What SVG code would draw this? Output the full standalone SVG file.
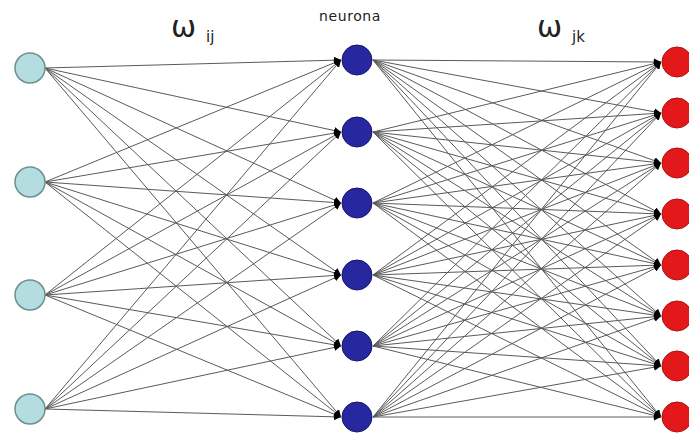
<svg xmlns="http://www.w3.org/2000/svg" width="689" height="435" viewBox="0 0 689 435">
<style>
.e{stroke:#5a5a5a;stroke-width:1;fill:none;marker-end:url(#ah)}
.in{fill:#b3dde1;stroke:#6e8f91;stroke-width:1.5}
.hid{fill:#2727a0;stroke:#15156a;stroke-width:1}
.out{fill:#e3181b;stroke:#b01010;stroke-width:1}
.lbl{font-family:"DejaVu Sans",sans-serif;fill:#222}
</style>
<defs>
<marker id="ah" markerUnits="userSpaceOnUse" markerWidth="8" markerHeight="7" refX="7" refY="3.5" orient="auto">
<path d="M0,0 L7,3.5 L0,7 z" fill="#000"/>
</marker>
</defs>
<rect width="689" height="435" fill="#fff"/>
<g id="connectors">
<line class="e" x1="45" y1="68" x2="341" y2="60"/>
<line class="e" x1="45" y1="68" x2="341" y2="132"/>
<line class="e" x1="45" y1="68" x2="341" y2="203"/>
<line class="e" x1="45" y1="68" x2="341" y2="275"/>
<line class="e" x1="45" y1="68" x2="341" y2="346"/>
<line class="e" x1="45" y1="68" x2="341" y2="417"/>
<line class="e" x1="45" y1="182" x2="341" y2="60"/>
<line class="e" x1="45" y1="182" x2="341" y2="132"/>
<line class="e" x1="45" y1="182" x2="341" y2="203"/>
<line class="e" x1="45" y1="182" x2="341" y2="275"/>
<line class="e" x1="45" y1="182" x2="341" y2="346"/>
<line class="e" x1="45" y1="182" x2="341" y2="417"/>
<line class="e" x1="45" y1="295" x2="341" y2="60"/>
<line class="e" x1="45" y1="295" x2="341" y2="132"/>
<line class="e" x1="45" y1="295" x2="341" y2="203"/>
<line class="e" x1="45" y1="295" x2="341" y2="275"/>
<line class="e" x1="45" y1="295" x2="341" y2="346"/>
<line class="e" x1="45" y1="295" x2="341" y2="417"/>
<line class="e" x1="45" y1="409" x2="341" y2="60"/>
<line class="e" x1="45" y1="409" x2="341" y2="132"/>
<line class="e" x1="45" y1="409" x2="341" y2="203"/>
<line class="e" x1="45" y1="409" x2="341" y2="275"/>
<line class="e" x1="45" y1="409" x2="341" y2="346"/>
<line class="e" x1="45" y1="409" x2="341" y2="417"/>
<line class="e" x1="373" y1="60" x2="661" y2="62"/>
<line class="e" x1="373" y1="60" x2="661" y2="113"/>
<line class="e" x1="373" y1="60" x2="661" y2="163"/>
<line class="e" x1="373" y1="60" x2="661" y2="214"/>
<line class="e" x1="373" y1="60" x2="661" y2="265"/>
<line class="e" x1="373" y1="60" x2="661" y2="316"/>
<line class="e" x1="373" y1="60" x2="661" y2="366"/>
<line class="e" x1="373" y1="60" x2="661" y2="417"/>
<line class="e" x1="373" y1="132" x2="661" y2="62"/>
<line class="e" x1="373" y1="132" x2="661" y2="113"/>
<line class="e" x1="373" y1="132" x2="661" y2="163"/>
<line class="e" x1="373" y1="132" x2="661" y2="214"/>
<line class="e" x1="373" y1="132" x2="661" y2="265"/>
<line class="e" x1="373" y1="132" x2="661" y2="316"/>
<line class="e" x1="373" y1="132" x2="661" y2="366"/>
<line class="e" x1="373" y1="132" x2="661" y2="417"/>
<line class="e" x1="373" y1="203" x2="661" y2="62"/>
<line class="e" x1="373" y1="203" x2="661" y2="113"/>
<line class="e" x1="373" y1="203" x2="661" y2="163"/>
<line class="e" x1="373" y1="203" x2="661" y2="214"/>
<line class="e" x1="373" y1="203" x2="661" y2="265"/>
<line class="e" x1="373" y1="203" x2="661" y2="316"/>
<line class="e" x1="373" y1="203" x2="661" y2="366"/>
<line class="e" x1="373" y1="203" x2="661" y2="417"/>
<line class="e" x1="373" y1="275" x2="661" y2="62"/>
<line class="e" x1="373" y1="275" x2="661" y2="113"/>
<line class="e" x1="373" y1="275" x2="661" y2="163"/>
<line class="e" x1="373" y1="275" x2="661" y2="214"/>
<line class="e" x1="373" y1="275" x2="661" y2="265"/>
<line class="e" x1="373" y1="275" x2="661" y2="316"/>
<line class="e" x1="373" y1="275" x2="661" y2="366"/>
<line class="e" x1="373" y1="275" x2="661" y2="417"/>
<line class="e" x1="373" y1="346" x2="661" y2="62"/>
<line class="e" x1="373" y1="346" x2="661" y2="113"/>
<line class="e" x1="373" y1="346" x2="661" y2="163"/>
<line class="e" x1="373" y1="346" x2="661" y2="214"/>
<line class="e" x1="373" y1="346" x2="661" y2="265"/>
<line class="e" x1="373" y1="346" x2="661" y2="316"/>
<line class="e" x1="373" y1="346" x2="661" y2="366"/>
<line class="e" x1="373" y1="346" x2="661" y2="417"/>
<line class="e" x1="373" y1="417" x2="661" y2="62"/>
<line class="e" x1="373" y1="417" x2="661" y2="113"/>
<line class="e" x1="373" y1="417" x2="661" y2="163"/>
<line class="e" x1="373" y1="417" x2="661" y2="214"/>
<line class="e" x1="373" y1="417" x2="661" y2="265"/>
<line class="e" x1="373" y1="417" x2="661" y2="316"/>
<line class="e" x1="373" y1="417" x2="661" y2="366"/>
<line class="e" x1="373" y1="417" x2="661" y2="417"/>
</g>
<g id="input-1"><circle class="in" cx="30" cy="68" r="15"/></g>
<g id="input-2"><circle class="in" cx="30" cy="182" r="15"/></g>
<g id="input-3"><circle class="in" cx="30" cy="295" r="15"/></g>
<g id="input-4"><circle class="in" cx="30" cy="409" r="15"/></g>
<g id="hidden-1"><circle class="hid" cx="357" cy="60" r="15"/></g>
<g id="hidden-2"><circle class="hid" cx="357" cy="132" r="15"/></g>
<g id="hidden-3"><circle class="hid" cx="357" cy="203" r="15"/></g>
<g id="hidden-4"><circle class="hid" cx="357" cy="275" r="15"/></g>
<g id="hidden-5"><circle class="hid" cx="357" cy="346" r="15"/></g>
<g id="hidden-6"><circle class="hid" cx="357" cy="417" r="15"/></g>
<g id="output-1"><circle class="out" cx="677" cy="62" r="15"/></g>
<g id="output-2"><circle class="out" cx="677" cy="113" r="15"/></g>
<g id="output-3"><circle class="out" cx="677" cy="163" r="15"/></g>
<g id="output-4"><circle class="out" cx="677" cy="214" r="15"/></g>
<g id="output-5"><circle class="out" cx="677" cy="265" r="15"/></g>
<g id="output-6"><circle class="out" cx="677" cy="316" r="15"/></g>
<g id="output-7"><circle class="out" cx="677" cy="366" r="15"/></g>
<g id="output-8"><circle class="out" cx="677" cy="417" r="15"/></g>
<g id="labels">
<text class="lbl" x="171" y="37" font-size="30" font-family="Liberation Sans, sans-serif">ω</text>
<text class="lbl" x="206" y="42" font-size="15">ij</text>
<text class="lbl" x="350" y="21" font-size="14" text-anchor="middle" letter-spacing="0.6">neurona</text>
<text class="lbl" x="537" y="37" font-size="30" font-family="Liberation Sans, sans-serif">ω</text>
<text class="lbl" x="572" y="42" font-size="15">jk</text>
</g>
</svg>
